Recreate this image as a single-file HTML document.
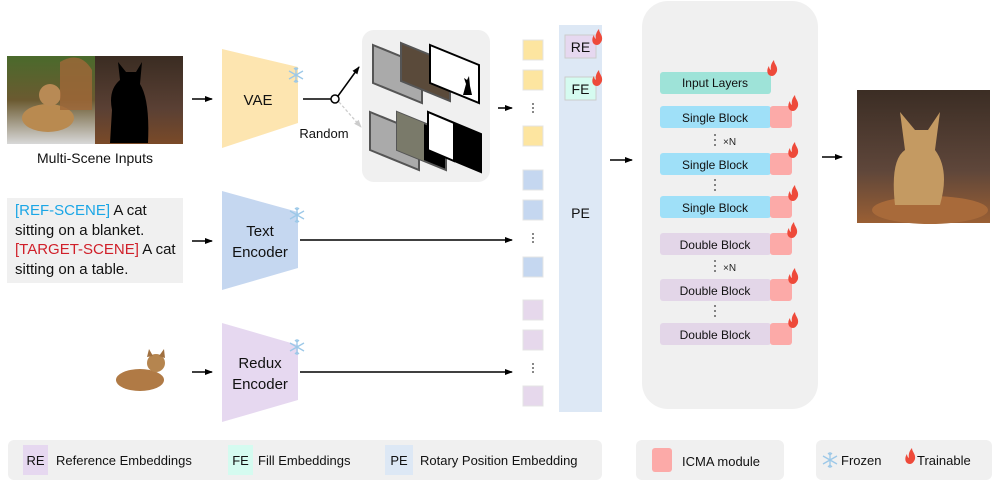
<!DOCTYPE html>
<html><head><meta charset="utf-8"><style>
html,body{margin:0;padding:0;background:#fff;}
svg{display:block;font-family:"Liberation Sans","DejaVu Sans",sans-serif;}
</style></head><body>
<svg width="997" height="481" viewBox="0 0 997 481" xmlns="http://www.w3.org/2000/svg">
<defs>
<marker id="ah" markerWidth="8" markerHeight="8" refX="7" refY="4" orient="auto" markerUnits="userSpaceOnUse"><path d="M0,1 L8,4 L0,7 Z" fill="#000"/></marker>
<marker id="ahg" markerWidth="8" markerHeight="8" refX="7" refY="4" orient="auto" markerUnits="userSpaceOnUse"><path d="M0,1 L8,4 L0,7 Z" fill="#ccc"/></marker>
<linearGradient id="grass" x1="0" y1="0" x2="0" y2="1"><stop offset="0" stop-color="#4a6a2c"/><stop offset="0.5" stop-color="#6b5a30"/><stop offset="1" stop-color="#d8d8d8"/></linearGradient>
<linearGradient id="cafe" x1="0" y1="0" x2="0" y2="1"><stop offset="0" stop-color="#3a2c22"/><stop offset="0.6" stop-color="#5a4034"/><stop offset="1" stop-color="#7a4a28"/></linearGradient>
<linearGradient id="out" x1="0" y1="0" x2="0" y2="1"><stop offset="0" stop-color="#3b2d24"/><stop offset="0.6" stop-color="#5e463a"/><stop offset="1" stop-color="#9a5f34"/></linearGradient>
<g id="flame"><path d="M0,10 C-5,10 -6,4 -3,0 C-3,3 -1,4 -1,4 C-2,0 0,-4 2,-6 C2,-2 6,0 5,5 C4,8 2,10 0,10 Z" fill="#ee4a3a"/></g>
<g id="snow" stroke="#9cc8e8" stroke-width="1.3" fill="none"><path d="M0,-8 V8 M-7,-4 L7,4 M-7,4 L7,-4 M-2,-7 L0,-5 L2,-7 M-2,7 L0,5 L2,7"/></g>
</defs>

<!-- multi-scene inputs -->
<rect x="7" y="56" width="88" height="88" fill="url(#grass)"/>
<ellipse cx="48" cy="118" rx="26" ry="14" fill="#b98a50"/>
<circle cx="50" cy="95" r="11" fill="#b88a55"/>
<path d="M60,62 Q80,50 92,70 L92,110 L60,110 Z" fill="#a06838" opacity="0.8"/>
<rect x="95" y="56" width="88" height="88" fill="url(#cafe)"/>
<path d="M110,143 L112,110 Q108,90 120,80 L118,62 L126,72 L136,72 L142,62 L140,84 Q150,100 148,143 Z" fill="#000"/>
<text x="95" y="163" font-size="14" text-anchor="middle" fill="#111">Multi-Scene Inputs</text>
<line x1="192" y1="99" x2="212" y2="99" stroke="#000" stroke-width="1.5" marker-end="url(#ah)"/>

<!-- VAE -->
<path d="M222,49 L298,67 L298,123 L222,148 Z" fill="#fde5b0"/>
<text x="258" y="105" font-size="15" text-anchor="middle" fill="#111">VAE</text>
<use href="#snow" x="296" y="75"/>
<line x1="303" y1="99" x2="331" y2="99" stroke="#000" stroke-width="1.5"/>
<circle cx="335" cy="99" r="4" fill="#fff" stroke="#000" stroke-width="1.5"/>
<line x1="338" y1="96" x2="359" y2="67" stroke="#000" stroke-width="1.5" marker-end="url(#ah)"/>
<line x1="339" y1="102" x2="361" y2="127" stroke="#ccc" stroke-width="1.3" stroke-dasharray="3,2" marker-end="url(#ahg)"/>
<text x="324" y="138" font-size="13" text-anchor="middle" fill="#111">Random</text>

<rect x="362" y="30" width="128" height="152" rx="12" fill="#f0f0f0"/>
<!-- top stack -->
<path d="M373,45 L422,65 L422,103 L373,83 Z" fill="#aaa" stroke="#555" stroke-width="2"/>
<path d="M401,43 L450,63 L450,101 L401,81 Z" fill="#5a4a3a" stroke="#555" stroke-width="2"/>
<path d="M430,45 L479,65 L479,103 L430,83 Z" fill="#fff" stroke="#000" stroke-width="2"/>
<path d="M463,95 L466,84 L464,78 L467,80 L469,76 L470,86 L472,95 Z" fill="#000"/>
<!-- bottom stack -->
<path d="M370,112 L419,132 L419,170 L370,150 Z" fill="#aaa" stroke="#555" stroke-width="2"/>
<path d="M397,112 L446,132 L446,170 L397,150 Z" fill="#000" stroke="#555" stroke-width="2"/>
<path d="M397,112 L424,123 L424,161 L397,150 Z" fill="#7a7a6a"/>
<path d="M428,112 L481,134 L481,172 L428,150 Z" fill="#000" stroke="#000" stroke-width="2"/>
<path d="M428,112 L454,123 L454,161 L428,150 Z" fill="#fff" stroke="#000" stroke-width="2"/>
<line x1="498" y1="108" x2="512" y2="108" stroke="#000" stroke-width="1.5" marker-end="url(#ah)"/>

<!-- text prompt -->
<rect x="7" y="198" width="176" height="85" fill="#f0f0f0"/>
<g font-size="15">
<text x="15" y="215"><tspan fill="#1aa6e6">[REF-SCENE]</tspan><tspan fill="#111"> A cat</tspan></text>
<text x="15" y="235" fill="#111">sitting on a blanket.</text>
<text x="15" y="254"><tspan fill="#d0202a">[TARGET-SCENE]</tspan><tspan fill="#111"> A cat</tspan></text>
<text x="15" y="274" fill="#111">sitting on a table.</text>
</g>
<line x1="192" y1="241" x2="212" y2="241" stroke="#000" stroke-width="1.5" marker-end="url(#ah)"/>
<path d="M222,191 L298,212 L298,268 L222,290 Z" fill="#c5d7f0"/>
<text x="260" y="236" font-size="15" text-anchor="middle" fill="#111">Text</text>
<text x="260" y="257" font-size="15" text-anchor="middle" fill="#111">Encoder</text>
<use href="#snow" x="297" y="215"/>
<line x1="300" y1="240" x2="512" y2="240" stroke="#000" stroke-width="1.5" marker-end="url(#ah)"/>

<!-- redux -->
<ellipse cx="140" cy="380" rx="24" ry="11" fill="#b07a45"/>
<circle cx="156" cy="363" r="9" fill="#b5854f"/>
<path d="M147,357 L149,349 L153,356 Z M159,356 L164,349 L165,358 Z" fill="#a07040"/>
<line x1="192" y1="372" x2="212" y2="372" stroke="#000" stroke-width="1.5" marker-end="url(#ah)"/>
<path d="M222,323 L298,345 L298,400 L222,422 Z" fill="#e6d8f0"/>
<text x="260" y="368" font-size="15" text-anchor="middle" fill="#111">Redux</text>
<text x="260" y="389" font-size="15" text-anchor="middle" fill="#111">Encoder</text>
<use href="#snow" x="297" y="347"/>
<line x1="300" y1="372" x2="512" y2="372" stroke="#000" stroke-width="1.5" marker-end="url(#ah)"/>

<!-- tokens -->
<g stroke="#e4e4e4" stroke-width="1">
<rect x="523" y="40" width="20" height="20" fill="#fde5a0"/>
<rect x="523" y="70" width="20" height="20" fill="#fde5a0"/>
<rect x="523" y="126" width="20" height="20" fill="#fde5a0"/>
<rect x="523" y="170" width="20" height="20" fill="#c5d7f0"/>
<rect x="523" y="200" width="20" height="20" fill="#c5d7f0"/>
<rect x="523" y="257" width="20" height="20" fill="#c5d7f0"/>
<rect x="523" y="300" width="20" height="20" fill="#e6d8ec"/>
<rect x="523" y="330" width="20" height="20" fill="#e6d8ec"/>
<rect x="523" y="386" width="20" height="20" fill="#e6d8ec"/>
</g>
<g fill="#333">
<circle cx="533" cy="104" r="0.9"/><circle cx="533" cy="108" r="0.9"/><circle cx="533" cy="112" r="0.9"/>
<circle cx="533" cy="234" r="0.9"/><circle cx="533" cy="238" r="0.9"/><circle cx="533" cy="242" r="0.9"/>
<circle cx="533" cy="364" r="0.9"/><circle cx="533" cy="368" r="0.9"/><circle cx="533" cy="372" r="0.9"/>
</g>

<!-- PE column -->
<rect x="559" y="25" width="43" height="387" fill="#dde8f5"/>
<rect x="565" y="35" width="31" height="23" fill="#e6d8f0" stroke="#ccc"/>
<text x="580.5" y="52" font-size="14" text-anchor="middle" fill="#111">RE</text>
<use href="#flame" x="597" y="35"/>
<rect x="565" y="77" width="31" height="23" fill="#d5fbf0" stroke="#ccc"/>
<text x="580.5" y="94" font-size="14" text-anchor="middle" fill="#111">FE</text>
<use href="#flame" x="597" y="76"/>
<text x="580.5" y="218" font-size="14" text-anchor="middle" fill="#111">PE</text>
<line x1="610" y1="160" x2="632" y2="160" stroke="#000" stroke-width="1.5" marker-end="url(#ah)"/>

<!-- model box -->
<rect x="642" y="1" width="176" height="408" rx="26" fill="#f0f0f0"/>
<rect x="660" y="72" width="111" height="22" rx="3" fill="#9ee3d8"/>
<text x="715" y="87" font-size="12" text-anchor="middle" fill="#111">Input Layers</text>
<use href="#flame" x="772" y="66"/>
<g font-size="12" fill="#111" text-anchor="middle">
<rect x="660" y="106" width="111" height="22" rx="3" fill="#9fe0f8"/><rect x="770" y="106" width="22" height="22" rx="3" fill="#fcaaa8"/><text x="715" y="122">Single Block</text>
<rect x="660" y="153" width="111" height="22" rx="3" fill="#9fe0f8"/><rect x="770" y="153" width="22" height="22" rx="3" fill="#fcaaa8"/><text x="715" y="169">Single Block</text>
<rect x="660" y="196" width="111" height="22" rx="3" fill="#9fe0f8"/><rect x="770" y="196" width="22" height="22" rx="3" fill="#fcaaa8"/><text x="715" y="212">Single Block</text>
<rect x="660" y="233" width="111" height="22" rx="3" fill="#e3d6e8"/><rect x="770" y="233" width="22" height="22" rx="3" fill="#fcaaa8"/><text x="715" y="249">Double Block</text>
<rect x="660" y="279" width="111" height="22" rx="3" fill="#e3d6e8"/><rect x="770" y="279" width="22" height="22" rx="3" fill="#fcaaa8"/><text x="715" y="295">Double Block</text>
<rect x="660" y="323" width="111" height="22" rx="3" fill="#e3d6e8"/><rect x="770" y="323" width="22" height="22" rx="3" fill="#fcaaa8"/><text x="715" y="339">Double Block</text>
</g>
<use href="#flame" x="793" y="101"/><use href="#flame" x="793" y="148"/><use href="#flame" x="793" y="191"/>
<use href="#flame" x="792" y="228"/><use href="#flame" x="793" y="274"/><use href="#flame" x="793" y="318"/>
<g fill="#333">
<circle cx="715" cy="135" r="0.9"/><circle cx="715" cy="140" r="0.9"/><circle cx="715" cy="145" r="0.9"/>
<circle cx="715" cy="180" r="0.9"/><circle cx="715" cy="185" r="0.9"/><circle cx="715" cy="190" r="0.9"/>
<circle cx="715" cy="261" r="0.9"/><circle cx="715" cy="266" r="0.9"/><circle cx="715" cy="271" r="0.9"/>
<circle cx="715" cy="306" r="0.9"/><circle cx="715" cy="311" r="0.9"/><circle cx="715" cy="316" r="0.9"/>
</g>
<text x="723" y="145" font-size="10" fill="#222">×N</text>
<text x="723" y="271" font-size="10" fill="#222">×N</text>

<line x1="822" y1="157" x2="842" y2="157" stroke="#000" stroke-width="1.5" marker-end="url(#ah)"/>
<!-- output image -->
<rect x="857" y="90" width="133" height="133" fill="url(#out)"/>
<ellipse cx="930" cy="210" rx="58" ry="14" fill="#a86a3a"/>
<path d="M895,205 Q890,160 905,150 L900,112 L915,130 L928,130 L940,112 L935,150 Q950,170 940,205 Z" fill="#c49a62"/>

<!-- legend -->
<rect x="8" y="440" width="594" height="40" rx="6" fill="#f0f0f0"/>
<rect x="23" y="445" width="25" height="30" fill="#e6d8f0"/>
<text x="35.5" y="465" font-size="13" text-anchor="middle" fill="#111">RE</text>
<text x="56" y="465" font-size="13" fill="#111">Reference Embeddings</text>
<rect x="228" y="445" width="25" height="30" fill="#d5fbf0"/>
<text x="240.5" y="465" font-size="13" text-anchor="middle" fill="#111">FE</text>
<text x="258" y="465" font-size="13" fill="#111">Fill Embeddings</text>
<rect x="385" y="445" width="28" height="30" fill="#dde8f5"/>
<text x="399" y="465" font-size="13" text-anchor="middle" fill="#111">PE</text>
<text x="420" y="465" font-size="13" fill="#111">Rotary Position Embedding</text>
<rect x="636" y="440" width="148" height="40" rx="6" fill="#f0f0f0"/>
<rect x="652" y="448" width="20" height="24" rx="3" fill="#fcaaa8"/>
<text x="682" y="466" font-size="13" fill="#111">ICMA module</text>
<rect x="816" y="440" width="176" height="40" rx="6" fill="#f0f0f0"/>
<use href="#snow" x="830" y="460"/>
<text x="841" y="465" font-size="13" fill="#111">Frozen</text>
<use href="#flame" x="910" y="454"/>
<text x="917" y="465" font-size="13" fill="#111">Trainable</text>
</svg>
</body></html>
